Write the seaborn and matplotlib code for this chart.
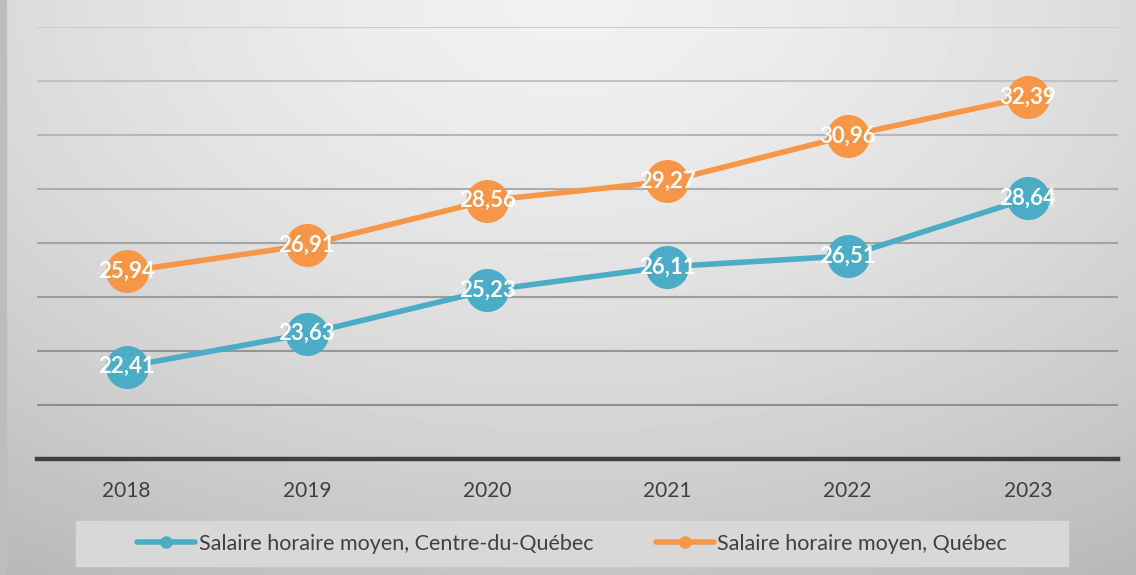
import numpy as np
import pandas as pd
import matplotlib
matplotlib.use("Agg")
import matplotlib.pyplot as plt
import seaborn as sns
from matplotlib.lines import Line2D
from matplotlib.patches import Rectangle

# Données du graphique
annees = ["2018", "2019", "2020", "2021", "2022", "2023"]
centre_du_quebec = [22.41, 23.63, 25.23, 26.11, 26.51, 28.64]
quebec = [25.94, 26.91, 28.56, 29.27, 30.96, 32.39]
series = ["Salaire horaire moyen, Centre-du-Québec", "Salaire horaire moyen, Québec"]
couleurs = ["#4BACC6", "#F79646"]

df = pd.DataFrame({
    "annee": annees * 2,
    "salaire": centre_du_quebec + quebec,
    "serie": [series[0]] * len(annees) + [series[1]] * len(annees),
})

sns.set_theme(style="white")
plt.rcParams["font.family"] = ["Lato", "DejaVu Sans"]

W, H = 1136, 575
fig = plt.figure(figsize=(W / 100, H / 100), dpi=100)

# Fond en dégradé (clair en haut au centre, plus foncé vers les bords)
bg = fig.add_axes([0, 0, 1, 1])
xx, yy = np.meshgrid(np.arange(W), np.arange(H))
r = np.sqrt(((xx - W / 2) / 800.0) ** 2 + (yy / 520.0) ** 2)
grad = 0.945 - 0.15 * r ** 1.5
bg.imshow(grad, cmap="gray", vmin=0, vmax=1, aspect="auto", extent=[0, 1, 0, 1], origin="upper")
bg.axis("off")
fig.patches.append(Rectangle((0, 0), 6 / W, 1, transform=fig.transFigure, color="#bdbdbd", zorder=1))

# Zone de tracé
ax = fig.add_axes([36.5 / W, 1 - 458.7 / H, (1118 - 36.5) / W, (458.7 - 26.7) / H])
ax.set_facecolor("none")

sns.lineplot(data=df, x="annee", y="salaire", hue="serie", palette=couleurs,
             marker="o", markersize=31, markeredgewidth=0, linewidth=4,
             legend=False, ax=ax, zorder=3)

# Étiquettes de données
for vals in [centre_du_quebec, quebec]:
    for i, v in enumerate(vals):
        ax.text(i, v, f"{v:.2f}".replace(".", ","), ha="center", va="center",
                color="white", fontsize=16, fontweight="bold", zorder=5)

ax.set_xlim(-0.5, len(annees) - 0.5)
ax.set_ylim(19, 35)
ax.set_yticks(np.arange(21, 36, 2))
ax.set_yticklabels([])
ax.tick_params(axis="y", length=0)
ax.tick_params(axis="x", length=0, pad=16, labelsize=15, labelcolor="#404040")
ax.set_xlabel("")
ax.set_ylabel("")

# Quadrillage : plus foncé vers le bas
grid_cols = ["#8f8f8f", "#959595", "#9c9c9c", "#a4a4a4", "#adadad", "#b7b7b7", "#c2c2c2", "#cccccc"]
for yv, c in zip(np.arange(21, 36, 2), grid_cols):
    ax.axhline(yv, color=c, linewidth=1.5, zorder=1)

for s in ["top", "left", "right"]:
    ax.spines[s].set_visible(False)
ax.spines["bottom"].set_color("#404040")
ax.spines["bottom"].set_linewidth(3.2)

# Légende
fig.patches.append(Rectangle((76 / W, 1 - 566 / H), (1068 - 76) / W, 45 / H,
                             transform=fig.transFigure, color="#d8d8d8", zorder=1))
handles = [Line2D([0], [0], color=c, linewidth=4, marker="o", markersize=8) for c in couleurs]
fig.legend(handles, series, loc="center", bbox_to_anchor=(572 / W, 1 - 543.5 / H),
           ncol=2, frameon=False, fontsize=15.5, handlelength=2.7, handletextpad=0.15,
           columnspacing=2.9, labelcolor="#404040")

fig.savefig("out.png", dpi=100)
